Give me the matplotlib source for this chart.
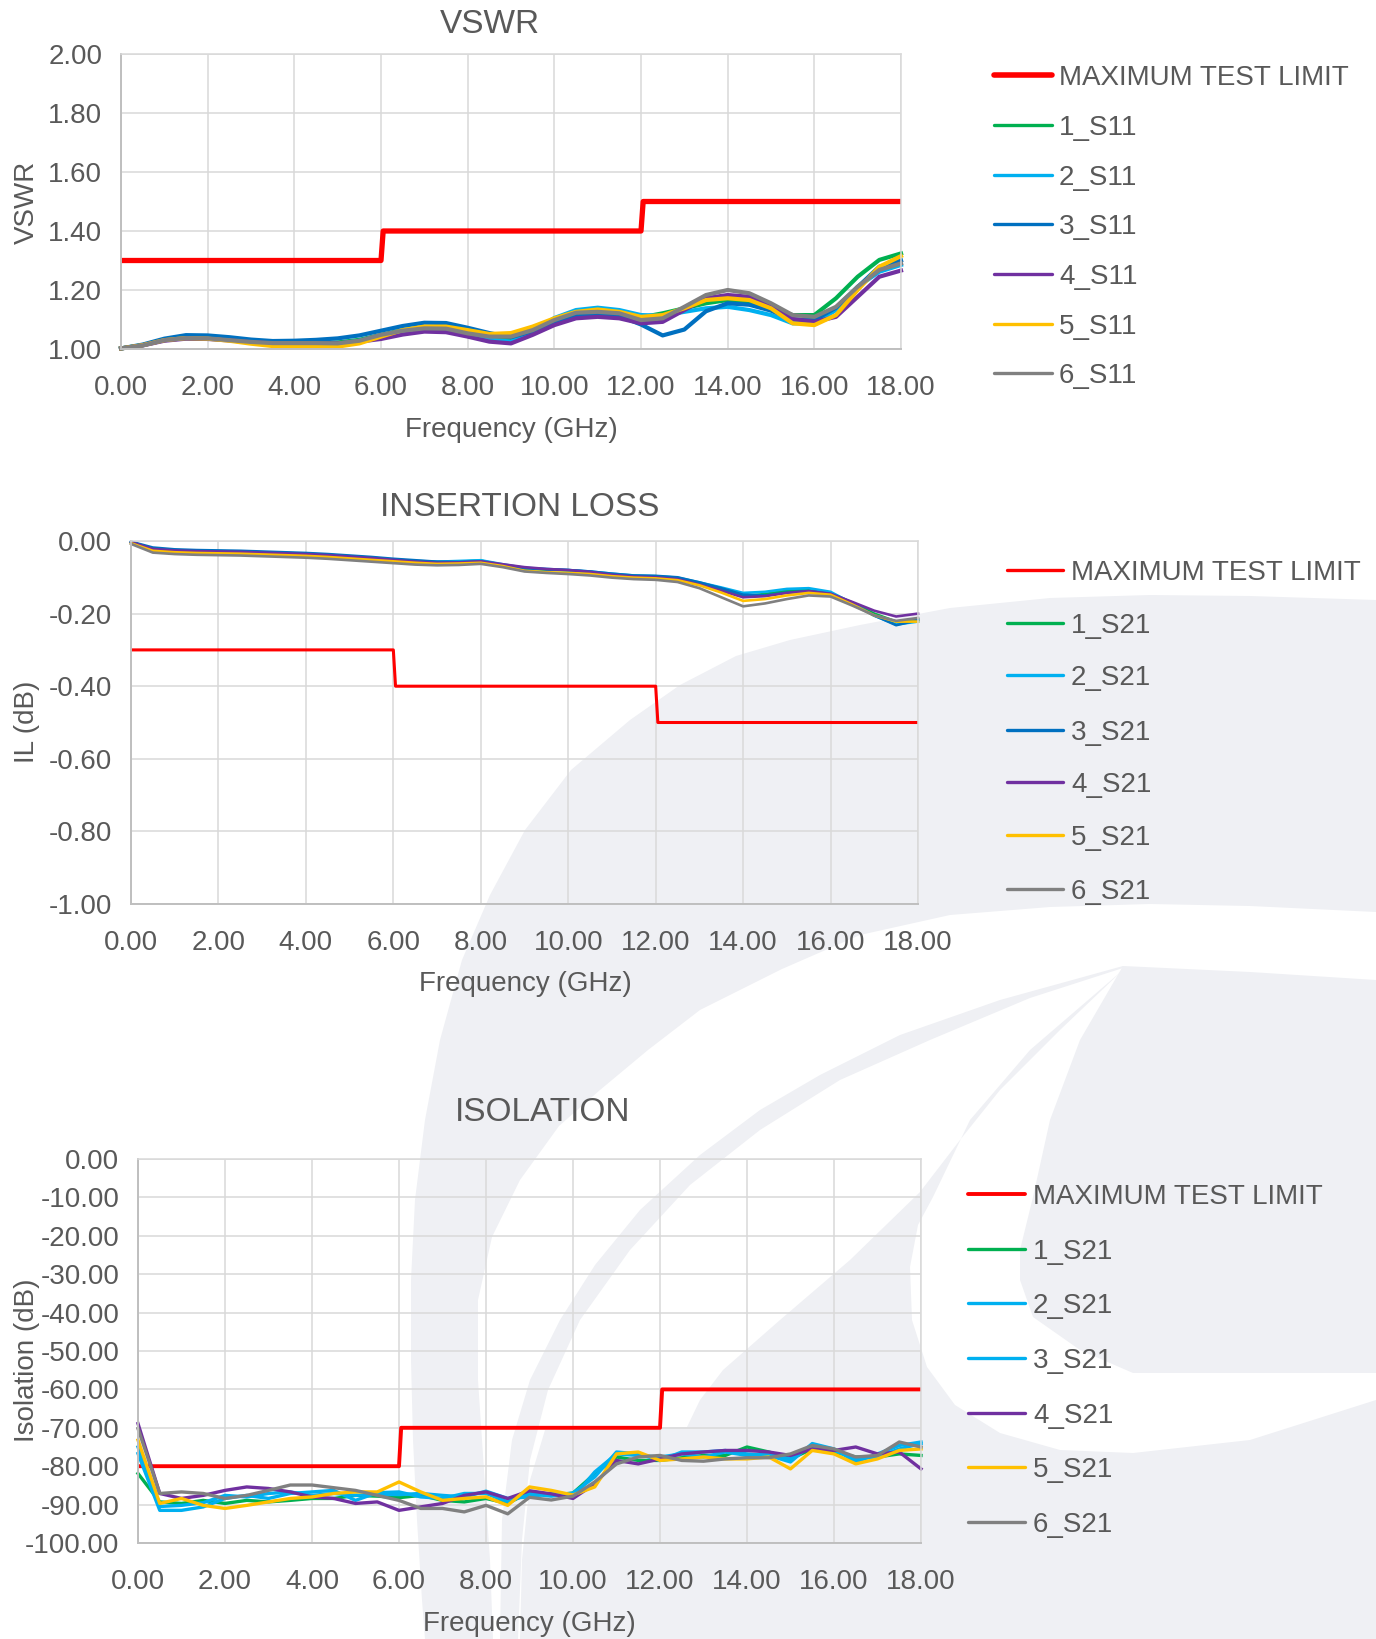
import matplotlib
matplotlib.use("Agg")
import matplotlib.pyplot as plt
from matplotlib.patches import Polygon
from matplotlib.lines import Line2D

plt.rcParams['font.family'] = ['Liberation Sans', 'DejaVu Sans']

W, H = 1376, 1639
TXT = '#595959'

# ---------------- data ----------------
freq = [i * 0.5 for i in range(37)]   # 0 .. 18 GHz

vswr_lim_x = [0, 6, 6.05, 12, 12.05, 18]
vswr_lim_y = [1.3, 1.3, 1.4, 1.4, 1.5, 1.5]
il_lim_x = [0, 6, 6.05, 12, 12.05, 18]
il_lim_y = [-0.3, -0.3, -0.4, -0.4, -0.5, -0.5]
iso_lim_x = [0, 6, 6.05, 12, 12.05, 18]
iso_lim_y = [-80, -80, -70, -70, -60, -60]

s11_1 = [1.002, 1.013, 1.030, 1.037, 1.036, 1.031, 1.025, 1.020, 1.019, 1.019, 1.022, 1.031, 1.048,
         1.064, 1.074, 1.072, 1.055, 1.035, 1.031, 1.055, 1.090, 1.115, 1.124, 1.117, 1.107, 1.121,
         1.138, 1.155, 1.166, 1.155, 1.138, 1.115, 1.115, 1.172, 1.245, 1.302, 1.324]
s11_2 = [1.002, 1.013, 1.030, 1.037, 1.035, 1.030, 1.024, 1.019, 1.017, 1.017, 1.018, 1.028, 1.045,
         1.062, 1.074, 1.067, 1.045, 1.032, 1.025, 1.060, 1.105, 1.132, 1.140, 1.132, 1.115, 1.113,
         1.126, 1.138, 1.143, 1.132, 1.115, 1.087, 1.087, 1.132, 1.211, 1.262, 1.285]
s11_3 = [1.002, 1.015, 1.035, 1.047, 1.046, 1.040, 1.032, 1.027, 1.028, 1.031, 1.036, 1.046, 1.062,
         1.078, 1.089, 1.088, 1.072, 1.054, 1.040, 1.060, 1.090, 1.112, 1.121, 1.112, 1.083, 1.046,
         1.066, 1.128, 1.155, 1.150, 1.130, 1.100, 1.098, 1.140, 1.210, 1.279, 1.300]
s11_4 = [1.002, 1.012, 1.028, 1.035, 1.034, 1.029, 1.023, 1.019, 1.019, 1.018, 1.019, 1.025, 1.034,
         1.049, 1.059, 1.057, 1.042, 1.025, 1.019, 1.048, 1.081, 1.104, 1.109, 1.104, 1.087, 1.092,
         1.132, 1.172, 1.183, 1.177, 1.146, 1.102, 1.092, 1.109, 1.177, 1.245, 1.266]
s11_5 = [1.002, 1.013, 1.030, 1.037, 1.035, 1.028, 1.018, 1.010, 1.008, 1.008, 1.008, 1.019, 1.042,
         1.064, 1.076, 1.076, 1.064, 1.051, 1.054, 1.076, 1.104, 1.126, 1.134, 1.126, 1.109, 1.115,
         1.138, 1.166, 1.172, 1.166, 1.138, 1.087, 1.081, 1.115, 1.200, 1.279, 1.315]
s11_6 = [1.002, 1.012, 1.030, 1.037, 1.036, 1.030, 1.024, 1.020, 1.020, 1.020, 1.019, 1.028, 1.048,
         1.062, 1.070, 1.069, 1.053, 1.042, 1.042, 1.064, 1.098, 1.123, 1.126, 1.121, 1.098, 1.104,
         1.143, 1.183, 1.200, 1.189, 1.155, 1.115, 1.109, 1.143, 1.211, 1.268, 1.290]

il_1 = [-0.003, -0.022, -0.026, -0.028, -0.029, -0.030, -0.032, -0.034, -0.036, -0.039, -0.043, -0.047,
        -0.052, -0.056, -0.058, -0.057, -0.054, -0.066, -0.076, -0.079, -0.081, -0.085, -0.092, -0.097,
        -0.098, -0.104, -0.118, -0.135, -0.152, -0.146, -0.137, -0.134, -0.143, -0.170, -0.200, -0.222, -0.215]
il_2 = [-0.003, -0.021, -0.025, -0.027, -0.028, -0.029, -0.031, -0.033, -0.035, -0.038, -0.042, -0.046,
        -0.051, -0.055, -0.057, -0.055, -0.053, -0.064, -0.074, -0.077, -0.080, -0.084, -0.090, -0.095,
        -0.097, -0.101, -0.114, -0.128, -0.143, -0.140, -0.132, -0.130, -0.140, -0.172, -0.206, -0.230, -0.222]
il_3 = [-0.002, -0.018, -0.023, -0.025, -0.026, -0.027, -0.029, -0.031, -0.033, -0.036, -0.040, -0.044,
        -0.049, -0.053, -0.057, -0.058, -0.056, -0.066, -0.075, -0.078, -0.080, -0.084, -0.090, -0.095,
        -0.096, -0.100, -0.114, -0.130, -0.148, -0.150, -0.142, -0.138, -0.146, -0.175, -0.205, -0.232, -0.218]
il_4 = [-0.003, -0.022, -0.026, -0.028, -0.029, -0.030, -0.032, -0.034, -0.036, -0.039, -0.043, -0.047,
        -0.052, -0.057, -0.060, -0.059, -0.056, -0.064, -0.072, -0.077, -0.080, -0.085, -0.093, -0.098,
        -0.100, -0.105, -0.120, -0.137, -0.155, -0.152, -0.143, -0.138, -0.145, -0.168, -0.192, -0.208, -0.200]
il_5 = [-0.006, -0.027, -0.031, -0.033, -0.034, -0.035, -0.037, -0.039, -0.041, -0.044, -0.048, -0.052,
        -0.056, -0.060, -0.063, -0.062, -0.060, -0.069, -0.082, -0.086, -0.088, -0.091, -0.097, -0.101,
        -0.103, -0.108, -0.122, -0.142, -0.165, -0.160, -0.150, -0.143, -0.148, -0.175, -0.205, -0.222, -0.222]
il_6 = [-0.008, -0.032, -0.036, -0.038, -0.039, -0.040, -0.042, -0.044, -0.046, -0.049, -0.053, -0.057,
        -0.061, -0.065, -0.067, -0.066, -0.063, -0.072, -0.084, -0.088, -0.091, -0.095, -0.101, -0.105,
        -0.107, -0.113, -0.130, -0.155, -0.180, -0.172, -0.160, -0.150, -0.153, -0.178, -0.205, -0.220, -0.212]

iso_1 = [-81.9, -89.3, -89.7, -88.9, -89.7, -88.9, -89.3, -88.9, -88.4, -88.4, -87.6, -87.8, -88.2,
         -87.6, -88.9, -89.3, -88.4, -89.7, -86.7, -87.5, -87.0, -82.0, -77.6, -78.5, -78.5, -77.8,
         -77.2, -77.2, -75.0, -76.3, -78.1, -75.5, -76.3, -77.6, -77.6, -76.8, -77.2]
iso_2 = [-76.7, -91.5, -91.5, -90.6, -88.4, -87.6, -88.4, -87.1, -86.7, -86.3, -88.9, -86.9, -86.7,
         -88.0, -88.4, -87.1, -87.1, -89.3, -87.2, -87.8, -87.0, -82.8, -76.3, -76.8, -78.5, -76.3,
         -76.3, -75.9, -76.8, -77.2, -78.9, -74.1, -75.5, -78.9, -76.8, -74.6, -73.7]
iso_3 = [-75.0, -90.5, -90.2, -89.5, -87.6, -88.0, -87.1, -86.7, -87.6, -87.1, -87.6, -87.3, -87.4,
         -87.1, -87.6, -88.0, -86.5, -88.4, -88.0, -87.0, -88.2, -81.5, -76.8, -77.2, -77.6, -76.8,
         -77.6, -76.3, -77.2, -76.8, -78.1, -74.6, -75.9, -78.1, -77.6, -75.5, -74.1]
iso_4 = [-68.9, -87.1, -88.4, -87.6, -86.3, -85.4, -85.8, -86.7, -88.0, -88.4, -89.7, -89.3, -91.5,
         -90.6, -89.7, -87.6, -86.7, -88.4, -86.4, -87.2, -88.4, -84.6, -78.5, -79.4, -78.1, -76.8,
         -76.3, -75.9, -75.9, -76.3, -77.2, -75.5, -75.9, -75.0, -76.8, -76.3, -80.7]
iso_5 = [-73.2, -89.7, -88.4, -90.2, -91.0, -90.2, -89.3, -88.4, -88.0, -87.1, -86.7, -86.7, -84.1,
         -86.7, -88.9, -88.4, -88.0, -90.2, -85.4, -86.3, -87.5, -85.4, -76.8, -76.3, -78.5, -78.1,
         -77.6, -78.1, -78.1, -77.6, -80.7, -75.9, -76.8, -79.4, -78.1, -75.9, -75.5]
iso_6 = [-70.2, -87.1, -86.7, -87.1, -88.4, -87.6, -86.3, -84.9, -84.9, -85.6, -86.3, -87.6, -88.9,
         -91.0, -91.0, -91.9, -90.2, -92.4, -88.1, -88.8, -87.8, -84.1, -79.4, -77.6, -77.2, -78.5,
         -78.7, -78.1, -77.8, -77.8, -76.8, -74.6, -75.5, -77.6, -77.2, -73.7, -75.0]

vswr_series = [s11_1, s11_2, s11_3, s11_4, s11_5, s11_6]
il_series = [il_1, il_2, il_3, il_4, il_5, il_6]
iso_series = [iso_1, iso_2, iso_3, iso_4, iso_5, iso_6]

vswr_names = ['1_S11', '2_S11', '3_S11', '4_S11', '5_S11', '6_S11']
s21_names = ['1_S21', '2_S21', '3_S21', '4_S21', '5_S21', '6_S21']
limit_name = 'MAXIMUM TEST LIMIT'

red = '#FF0000'
vswr_colors = ['#00B050', '#00B0F0', '#0070C0', '#7030A0', '#FFC000', '#808080']
il_colors = ['#00B050', '#00B0F0', '#0070C0', '#7030A0', '#FFC000', '#808080']
iso_colors = ['#00B050', '#00B0F0', '#00B0F0', '#7030A0', '#FFC000', '#808080']

xticks = [0, 2, 4, 6, 8, 10, 12, 14, 16, 18]
xlabels = ['0.00', '2.00', '4.00', '6.00', '8.00', '10.00', '12.00', '14.00', '16.00', '18.00']
vswr_ticks = [1.0, 1.2, 1.4, 1.6, 1.8, 2.0]
vswr_labels = ['1.00', '1.20', '1.40', '1.60', '1.80', '2.00']
il_ticks = [0, -0.2, -0.4, -0.6, -0.8, -1.0]
il_labels = ['0.00', '-0.20', '-0.40', '-0.60', '-0.80', '-1.00']
iso_ticks = [0, -10, -20, -30, -40, -50, -60, -70, -80, -90, -100]
iso_labels = ['0.00', '-10.00', '-20.00', '-30.00', '-40.00', '-50.00', '-60.00',
              '-70.00', '-80.00', '-90.00', '-100.00']

fig = plt.figure(figsize=(W / 100, H / 100), dpi=100)
fig.patch.set_facecolor('white')

# ---------------- background watermark ----------------
bg = fig.add_axes([0, 0, 1, 1], zorder=-10)
bg.set_xlim(0, W)
bg.set_ylim(H, 0)
bg.axis('off')
wm = '#EFF0F4'
outer = [(1376, 600), (1250, 596), (1150, 595), (1050, 598), (950, 608), (860, 625), (790, 640),
         (736, 656), (680, 685), (630, 720), (571, 770), (525, 830), (490, 895), (462, 960),
         (440, 1040), (425, 1120), (415, 1200), (411, 1280), (411, 1360), (413, 1440), (417, 1520),
         (422, 1600), (425, 1639), (1376, 1639)]
white_cut = [(1376, 912), (1250, 906), (1150, 904), (1050, 907), (950, 915), (860, 935), (782, 969),
             (700, 1010), (648, 1050), (600, 1090), (559, 1126), (520, 1180), (492, 1237),
             (478, 1300), (478, 1380), (484, 1470), (490, 1560), (493, 1639), (1376, 1639)]
swoosh = [(1123, 966), (1000, 1000), (900, 1035), (820, 1075), (760, 1110), (700, 1155), (640, 1210),
          (595, 1265), (560, 1320), (530, 1380), (512, 1440), (502, 1520), (500, 1639), (518, 1639),
          (522, 1540), (530, 1460), (548, 1390), (580, 1320), (630, 1250), (690, 1185), (760, 1130),
          (840, 1080), (930, 1040), (1030, 998), (1123, 968)]
lower = [(1123, 970), (1060, 1030), (1000, 1090), (960, 1140), (920, 1192), (850, 1260), (780, 1320),
         (723, 1370), (700, 1400), (687, 1427), (600, 1428), (545, 1430), (530, 1480), (522, 1560),
         (520, 1639), (1376, 1639), (1376, 1400), (1250, 1440), (1133, 1453), (1060, 1450),
         (1000, 1433), (955, 1405), (927, 1367), (912, 1320), (910, 1267), (918, 1225), (933, 1197),
         (970, 1120), (1030, 1050)]
inner = [(1123, 966), (1250, 972), (1376, 980), (1376, 1373), (1250, 1373), (1133, 1373),
         (1080, 1350), (1033, 1317), (1020, 1280), (1020, 1250), (1033, 1197), (1050, 1120),
         (1080, 1040)]
bg.add_patch(Polygon(outer, closed=True, fc=wm, ec='none'))
bg.add_patch(Polygon(white_cut, closed=True, fc='white', ec='none'))
for shape in (swoosh, lower, inner):
    bg.add_patch(Polygon(shape, closed=True, fc=wm, ec='none'))


def make_axes(left, top, right, bottom):
    ax = fig.add_axes([left / W, 1 - bottom / H, (right - left) / W, (bottom - top) / H])
    ax.set_facecolor('none')
    ax.grid(True, color='#D9D9D9', lw=1.1)
    ax.set_axisbelow(True)
    for side in ('top', 'right'):
        ax.spines[side].set_color('#D9D9D9')
        ax.spines[side].set_linewidth(1.1)
    for side in ('left', 'bottom'):
        ax.spines[side].set_color('#BFBFBF')
        ax.spines[side].set_linewidth(1.4)
    ax.tick_params(axis='both', length=0, labelsize=20, labelcolor=TXT)
    ax.tick_params(axis='y', pad=13.5)
    ax.tick_params(axis='x', pad=18.5)
    ax.set_xlim(0, 18)
    ax.set_xticks(xticks)
    ax.set_xticklabels(xlabels)
    return ax


def px(x, y):
    return x / W, 1 - y / H


def legend(x0, x1, xt, ys, colors, names, lw_lim, lw):
    items = [(red, limit_name, lw_lim)] + [(c, n, lw) for c, n in zip(colors, names)]
    for (c, n, w), y in zip(items, ys):
        fig.add_artist(Line2D([x0 / W, x1 / W], [1 - y / H, 1 - y / H], color=c, lw=w,
                              solid_capstyle='round', transform=fig.transFigure))
        fig.text(*px(xt, y + 10), n, fontsize=20, color=TXT, ha='left', va='baseline')


# ---------------- VSWR ----------------
ax1 = make_axes(121, 54, 901, 349)
ax1.set_ylim(1.0, 2.0)
ax1.set_yticks(vswr_ticks)
ax1.set_yticklabels(vswr_labels)
ax1.plot(vswr_lim_x, vswr_lim_y, color=red, lw=3.8)
for s, c in zip(vswr_series, vswr_colors):
    ax1.plot(freq, s, color=c, lw=3.0, clip_on=False)
fig.text(*px(490, 33), 'VSWR', fontsize=24, color=TXT, ha='center', va='baseline')
fig.text(*px(511, 430), 'Frequency (GHz)', fontsize=20, color=TXT, ha='center', va='center')
fig.text(*px(27, 202), 'VSWR', fontsize=20, color=TXT, ha='center', va='center', rotation=90)
legend(994, 1052, 1059, [75, 125, 175, 224, 274, 324, 373], vswr_colors, vswr_names, 4.0, 2.4)

# ---------------- Insertion loss ----------------
ax2 = make_axes(131, 541, 918, 904)
ax2.set_ylim(-1.0, 0.0)
ax2.set_yticks(il_ticks)
ax2.set_yticklabels(il_labels)
ax2.plot(il_lim_x, il_lim_y, color=red, lw=2.2)
for s, c in zip(il_series, il_colors):
    ax2.plot(freq, s, color=c, lw=1.9, clip_on=False)
fig.text(*px(520, 516), 'INSERTION LOSS', fontsize=24, color=TXT, ha='center', va='baseline')
fig.text(*px(525, 984), 'Frequency (GHz)', fontsize=20, color=TXT, ha='center', va='center')
fig.text(*px(27, 722), 'IL (dB)', fontsize=20, color=TXT, ha='center', va='center', rotation=90)
legend(1007, 1063, 1071, [570, 623, 675, 730, 782, 835, 889], il_colors, s21_names, 2.4, 2.4)

# ---------------- Isolation ----------------
ax3 = make_axes(138, 1159, 921, 1543)
ax3.set_ylim(-100, 0)
ax3.set_yticks(iso_ticks)
ax3.set_yticklabels(iso_labels)
ax3.plot(iso_lim_x, iso_lim_y, color=red, lw=2.8)
for s, c in zip(iso_series, iso_colors):
    ax3.plot(freq, s, color=c, lw=2.4, clip_on=False)
fig.text(*px(543, 1121), 'ISOLATION', fontsize=24, color=TXT, ha='center', va='baseline')
fig.text(*px(529, 1624), 'Frequency (GHz)', fontsize=20, color=TXT, ha='center', va='center')
fig.text(*px(27, 1360), 'Isolation (dB)', fontsize=20, color=TXT, ha='center', va='center',
         rotation=90)
legend(968, 1025, 1033, [1194, 1249, 1303, 1358, 1413, 1467, 1522], iso_colors, s21_names, 2.8, 2.4)

fig.savefig('out.png', dpi=100, facecolor='white')
